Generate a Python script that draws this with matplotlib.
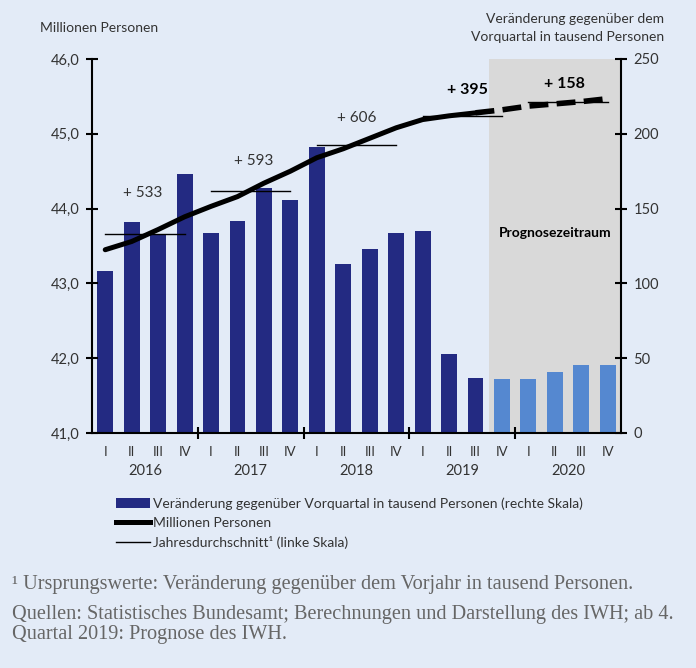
import matplotlib.pyplot as plt
import matplotlib.transforms as mtransforms
from matplotlib.patches import Patch
from matplotlib.lines import Line2D

# data
quarters = ['I', 'II', 'III', 'IV'] * 5
years = ['2016', '2017', '2018', '2019', '2020']
# change vs. previous quarter, thousand persons (right scale)
change = [108, 141, 133, 173, 134, 142, 164, 156, 191, 113,
          123, 134, 135, 53, 37, 36, 36, 41, 45.5, 45.5]
# employed persons, millions (left scale)
persons = [43.45, 43.56, 43.72, 43.89, 44.03, 44.16, 44.34, 44.50, 44.68, 44.80,
           44.94, 45.08, 45.19, 45.24, 45.28, 45.32, 45.37, 45.40, 45.43, 45.47]
# annual averages (left scale) and labels
avg_level = [43.66, 44.24, 44.85, 45.24, 45.42]
avg_label = ['+ 533', '+ 593', '+ 606', '+ 395', '+ 158']
n_actual = 15  # 2016 I .. 2019 III are actual values

bg = '#e3ebf7'
dark = '#232a82'
light = '#5588d0'
txt = '#333333'

plt.rcParams['font.family'] = ['Lato', 'DejaVu Sans']

fig = plt.figure(figsize=(6.96, 6.68), dpi=100, facecolor=bg)
ax = fig.add_axes([0.1322, 0.3518, 0.76, 0.5599])
ax2 = ax.twinx()
ax.set_zorder(ax2.get_zorder() + 1)
ax.patch.set_visible(False)
ax2.patch.set_visible(False)

x = list(range(len(change)))

# forecast area and bars (right scale)
ax2.axvspan(14.5, 19.5, color='#d9d9d9', zorder=0, lw=0)
colors = [dark if i < n_actual else light for i in x]
ax2.bar(x, change, width=0.6, color=colors, zorder=2)
ax2.set_ylim(0, 250)
ax2.set_yticks([0, 50, 100, 150, 200, 250])

# employment line (left scale)
ax.plot(x[:n_actual], persons[:n_actual], color='black', lw=3.6,
        solid_capstyle='round', zorder=3)
ax.plot(x[n_actual - 1:], persons[n_actual - 1:], color='black', lw=4.0,
        dashes=(3.4, 1.5), zorder=3)

# annual averages
for k in range(5):
    ax.plot([4 * k, 4 * k + 3], [avg_level[k], avg_level[k]], color='black', lw=1.0, zorder=4)
lab_x = [1.43, 5.62, 9.52, 13.68, 17.38]
lab_y = [44.21, 44.64, 45.21, 45.58, 45.67]
for k in range(5):
    bold = k >= 3
    ax.text(lab_x[k], lab_y[k], avg_label[k], ha='center', va='center',
            fontsize=11.5 if bold else 11, color='black' if bold else txt,
            fontweight='bold' if bold else 'normal')

ax.text(17.0, 43.68, 'Prognosezeitraum', ha='center', va='center',
        fontsize=10, fontweight='bold', color='black')

ax.set_xlim(-0.5, 19.5)
ax.set_ylim(41, 46)
ax.set_yticks([41, 42, 43, 44, 45, 46])
ax.set_yticklabels(['41,0', '42,0', '43,0', '44,0', '45,0', '46,0'])

for a in (ax, ax2):
    for s in a.spines.values():
        s.set_visible(False)
ax.spines['left'].set_visible(True)
ax.spines['bottom'].set_visible(True)
ax2.spines['right'].set_visible(True)
for a in (ax, ax2):
    for s in a.spines.values():
        s.set_linewidth(1.5)
        s.set_color('black')

ax.tick_params(axis='y', direction='inout', length=8, width=1.5, labelsize=10.5,
               labelcolor=txt, pad=5)
ax2.tick_params(axis='y', direction='inout', length=8, width=1.5, labelsize=10.5,
                labelcolor=txt, pad=5)

ax.set_xticks([3.5, 7.5, 11.5, 15.5])
ax.set_xticklabels([])
ax.tick_params(axis='x', direction='inout', length=8, width=1.5)

# quarter and year labels below the axis
trans = mtransforms.blended_transform_factory(ax.transData, fig.transFigure)
for i, q in enumerate(quarters):
    ax.text(i, 1 - 452 / 668, q, transform=trans, ha='center', va='center',
            fontsize=9.5, color=txt)
for k, yr in enumerate(years):
    ax.text(4 * k + 1.5, 1 - 471 / 668, yr, transform=trans, ha='center', va='center',
            fontsize=10.5, color=txt)

fig.text(40 / 696, 1 - 28 / 668, 'Millionen Personen', ha='left', va='center',
         fontsize=10, color=txt)
fig.text(664 / 696, 1 - 28 / 668, 'Veränderung gegenüber dem\nVorquartal in tausend Personen',
         ha='right', va='center', fontsize=10, color=txt, linespacing=1.6)

handles = [Patch(facecolor=dark, edgecolor='none'),
           Line2D([], [], color='black', lw=3.6),
           Line2D([], [], color='black', lw=1.0)]
labels = ['Veränderung gegenüber Vorquartal in tausend Personen (rechte Skala)',
          'Millionen Personen',
          'Jahresdurchschnitt¹ (linke Skala)']
fig.legend(handles, labels, loc='upper left', bbox_to_anchor=(103 / 696, 1 - 485 / 668),
           frameon=False, fontsize=10, handlelength=2.5, handletextpad=0.2,
           labelspacing=0.5, labelcolor=txt)

serif = ['Liberation Serif', 'DejaVu Serif']
foot = ['¹ Ursprungswerte: Veränderung gegenüber dem Vorjahr in tausend Personen.',
        'Quellen: Statistisches Bundesamt; Berechnungen und Darstellung des IWH; ab 4.',
        'Quartal 2019: Prognose des IWH.']
foot_y = [584, 615, 635]
for line, yy in zip(foot, foot_y):
    fig.text(12 / 696, 1 - yy / 668, line, ha='left', va='center',
             fontsize=14.6, color='#666666', family=serif)

fig.savefig('out.png', dpi=100, facecolor=bg)
